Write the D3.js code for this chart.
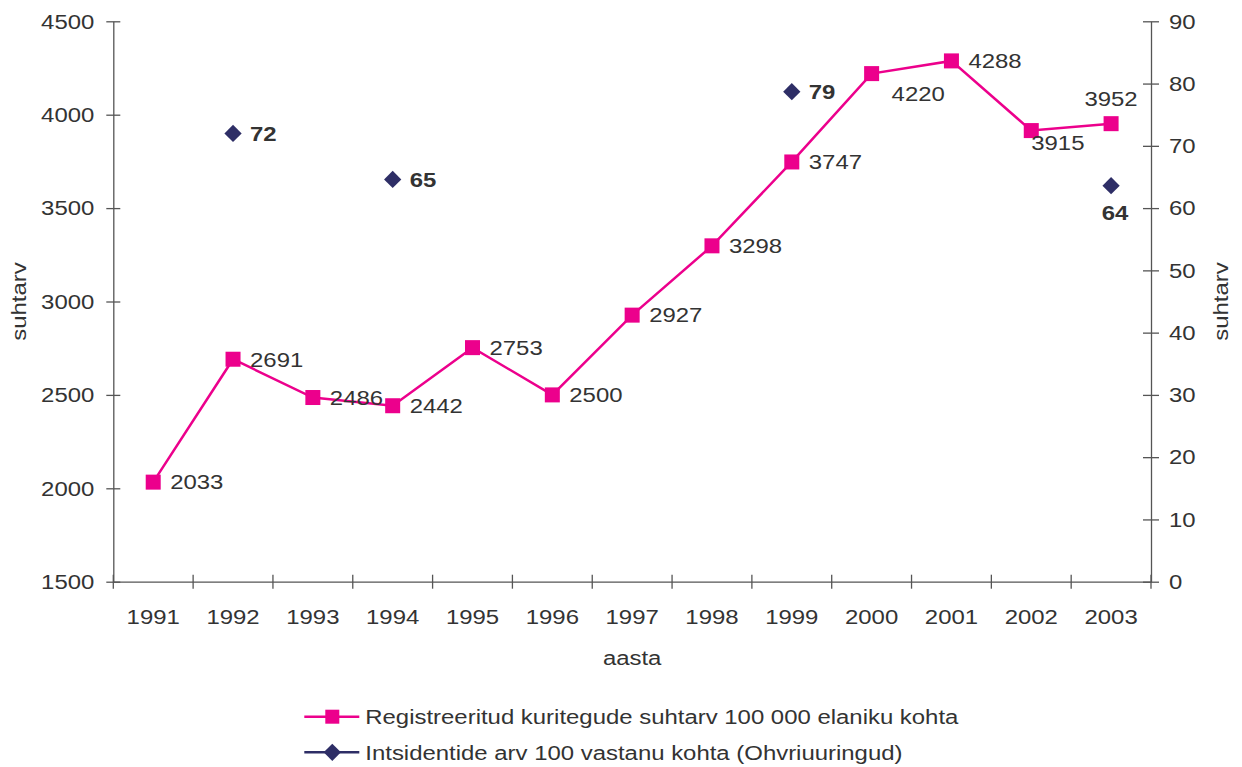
<!DOCTYPE html>
<html>
<head>
<meta charset="utf-8">
<script src="https://cdn.jsdelivr.net/npm/d3@7"></script>
<style>
  body { margin: 0; background: #fff; }
  svg { display: block; font-family: "Liberation Sans", Arial, sans-serif; }
  text { fill: #333; }
</style>
</head>
<body>
<div id="chart"></div>
<script>
// Chart data
const years = ['1991', '1992', '1993', '1994', '1995', '1996', '1997', '1998', '1999', '2000', '2001', '2002', '2003'];
const crimeRate = [2033, 2691, 2486, 2442, 2753, 2500, 2927, 3298, 3747, 4220, 4288, 3915, 3952];
const incidentYears = ['1992', '1994', '1999', '2003'];
const incidents = [72, 64.6, 78.7, 63.6];
const leftTicks = [1500, 2000, 2500, 3000, 3500, 4000, 4500];
const rightTicks = [0, 10, 20, 30, 40, 50, 60, 70, 80, 90];
const seriesNames = ['Registreeritud kuritegude suhtarv 100 000 elaniku kohta',
  'Intsidentide arv 100 vastanu kohta (Ohvriuuringud)'];

const width = 1242, height = 767,
  plot = { left: 113.3, right: 1151, top: 21.3, bottom: 581.7 },
  PINK = '#EC008C', NAVY = '#2E2E66', AXIS = '#555',
  FS = 21, SX = 1.14;

let svg = d3.select('#chart').append('svg')
  .attr('width', width).attr('height', height);

let x = d3.scaleBand().domain(years).range([plot.left, plot.right]).padding(0);
let yL = d3.scaleLinear().domain([1500, 4500]).range([plot.bottom, plot.top]);
let yR = d3.scaleLinear().domain([0, 90]).range([plot.bottom, plot.top]);
let cx = d => x(d) + x.bandwidth() / 2;
let fmt = d3.format('.0f');

// widen text around its anchor point (reference text is horizontally stretched)
function stretch (sel) {
  sel.each(function () {
    let ax = +this.getAttribute('x') || 0;
    d3.select(this).attr('transform',
      'translate(' + ax + ',0) scale(' + SX + ',1) translate(' + (-ax) + ',0)');
  });
}

function styleAxis (g, x1, x2) {
  g.select('.domain').attr('stroke', AXIS).attr('stroke-width', 1.3);
  g.selectAll('.tick line').attr('stroke', AXIS).attr('stroke-width', 1.3)
    .attr('x1', x1).attr('x2', x2);
  g.selectAll('text').attr('font-size', FS).attr('fill', '#333')
    .attr('font-family', '"Liberation Sans", Arial, sans-serif').call(stretch);
}

/* Left axis */
let gL = svg.append('g').attr('transform', 'translate(' + plot.left + ',0)')
  .call(d3.axisLeft(yL).tickValues(leftTicks).tickFormat(d3.format('d'))
    .tickSizeInner(7).tickSizeOuter(0).tickPadding(12));
styleAxis(gL, 7, -7);

/* Right axis */
let gR = svg.append('g').attr('transform', 'translate(' + plot.right + ',0)')
  .call(d3.axisRight(yR).tickValues(rightTicks).tickFormat(d3.format('d'))
    .tickSizeInner(8).tickSizeOuter(0).tickPadding(10));
styleAxis(gR, -8, 8);

/* Bottom axis: labels centred in bands, tick marks on band edges */
let gB = svg.append('g').attr('transform', 'translate(0,' + plot.bottom + ')')
  .call(d3.axisBottom(x).tickSize(0).tickPadding(27.7));
gB.select('.domain').attr('stroke', AXIS).attr('stroke-width', 1.3);
gB.selectAll('text').attr('font-size', FS).attr('fill', '#333')
  .attr('font-family', '"Liberation Sans", Arial, sans-serif').call(stretch);
gB.selectAll('.edge')
  .data(years.concat(['end']))
  .enter().append('line')
  .attr('class', 'edge')
  .attr('x1', (d, i) => plot.left + i * x.step())
  .attr('x2', (d, i) => plot.left + i * x.step())
  .attr('y1', -7).attr('y2', 7)
  .attr('stroke', AXIS).attr('stroke-width', 1.3);

/* Axis titles */
svg.append('g').attr('transform', 'translate(' + ((plot.left + plot.right) / 2) + ',665)')
  .append('text').attr('text-anchor', 'middle').attr('font-size', FS)
  .text('aasta').call(stretch);

[19, 1221].forEach(px => {
  svg.append('g')
    .attr('transform', 'translate(' + px + ',' + ((plot.top + plot.bottom) / 2) + ') rotate(-90)')
    .append('text').attr('text-anchor', 'middle').attr('dy', '0.35em').attr('font-size', FS)
    .text('suhtarv').call(stretch);
});

/* Crime rate line */
let line = d3.line().x((d, i) => cx(years[i])).y(d => yL(d));
svg.append('path').datum(crimeRate)
  .attr('d', line).attr('fill', 'none')
  .attr('stroke', PINK).attr('stroke-width', 2.5);

svg.selectAll('.sq')
  .data(crimeRate)
  .enter().append('rect')
  .attr('class', 'sq')
  .attr('x', (d, i) => cx(years[i]) - 7.5)
  .attr('y', d => yL(d) - 7.5)
  .attr('width', 15).attr('height', 15)
  .attr('fill', PINK);

// label placement: offsets from the point [dx, dy, anchor]
let crimeLabelPos = { '2000': [20, 20, 'start'], '2002': [0, 12, 'start'], '2003': [0, -25, 'middle'] };
svg.selectAll('.crime-label')
  .data(crimeRate)
  .enter().append('text')
  .attr('class', 'crime-label')
  .attr('x', (d, i) => cx(years[i]) + (crimeLabelPos[years[i]] || [17])[0])
  .attr('y', (d, i) => yL(d) + ((crimeLabelPos[years[i]] || [0, 0])[1]))
  .attr('dy', '0.35em')
  .attr('text-anchor', (d, i) => (crimeLabelPos[years[i]] || [0, 0, 'start'])[2])
  .attr('font-size', FS)
  .text(d => d)
  .call(stretch);

/* Incident points */
let diamond = d3.symbol().type(d3.symbolDiamond2).size(190);
svg.selectAll('.dm')
  .data(incidents)
  .enter().append('path')
  .attr('class', 'dm')
  .attr('d', diamond)
  .attr('transform', (d, i) => 'translate(' + cx(incidentYears[i]) + ',' + yR(d) + ')')
  .attr('fill', NAVY);

let incLabelPos = { '2003': [4, 27, 'middle'] };
svg.selectAll('.inc-label')
  .data(incidents)
  .enter().append('text')
  .attr('class', 'inc-label')
  .attr('x', (d, i) => cx(incidentYears[i]) + (incLabelPos[incidentYears[i]] || [17])[0])
  .attr('y', (d, i) => yR(d) + ((incLabelPos[incidentYears[i]] || [0, 0])[1]))
  .attr('dy', '0.35em')
  .attr('text-anchor', (d, i) => (incLabelPos[incidentYears[i]] || [0, 0, 'start'])[2])
  .attr('font-size', FS).attr('font-weight', 'bold')
  .text(d => fmt(d))
  .call(stretch);

/* Legend */
let legend = svg.append('g').attr('transform', 'translate(304.3,716.7)');
let rows = legend.selectAll('.row')
  .data(seriesNames)
  .enter().append('g')
  .attr('class', 'row')
  .attr('transform', (d, i) => 'translate(0,' + (i * 35.6) + ')');

rows.append('line')
  .attr('x1', 0).attr('x2', 55).attr('y1', 0).attr('y2', 0)
  .attr('stroke', (d, i) => i === 0 ? PINK : NAVY).attr('stroke-width', 2.5);

rows.filter((d, i) => i === 0).append('rect')
  .attr('x', 28 - 7).attr('y', -7).attr('width', 14).attr('height', 14)
  .attr('fill', PINK);
rows.filter((d, i) => i === 1).append('path')
  .attr('d', diamond).attr('transform', 'translate(28,0)').attr('fill', NAVY);

rows.append('text')
  .attr('x', 61).attr('dy', '0.35em').attr('font-size', FS)
  .text(d => d)
  .call(stretch);
</script>
</body>
</html>
